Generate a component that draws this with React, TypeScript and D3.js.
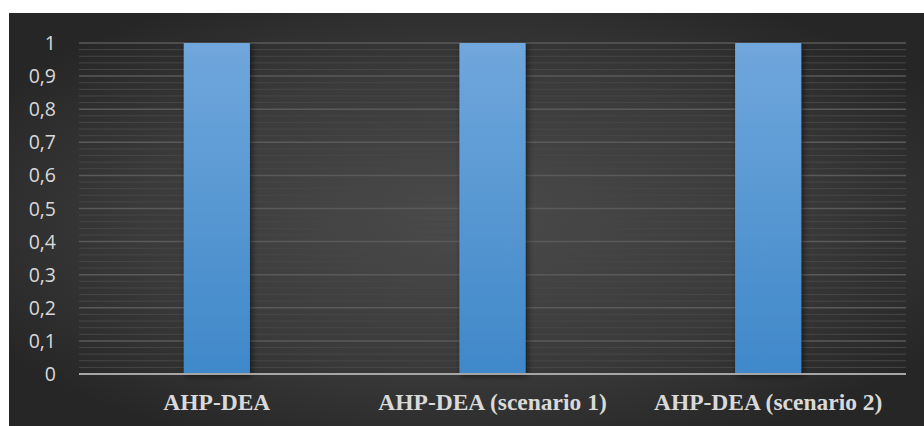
import React from "react";
import * as d3 from "d3";

const categories = ["AHP-DEA", "AHP-DEA (scenario 1)", "AHP-DEA (scenario 2)"];
const values = [1, 1, 1];
const yTicks = [0, 0.1, 0.2, 0.3, 0.4, 0.5, 0.6, 0.7, 0.8, 0.9, 1];
const yTickLabels = ["0", "0,1", "0,2", "0,3", "0,4", "0,5", "0,6", "0,7", "0,8", "0,9", "1"];

const W = 924;
const H = 426;
const plotLeft = 79;
const plotRight = 906;
const plotTop = 43;
const plotBottom = 374;

export default function App() {
  const x = d3
    .scaleBand<string>()
    .domain(categories)
    .range([plotLeft, plotRight])
    .paddingInner(0.76)
    .paddingOuter(0.38);
  const y = d3.scaleLinear().domain([0, 1]).range([plotBottom, plotTop]);
  const minorTicks = d3.range(0, 1.0001, 0.02).filter((v) => Math.abs(Math.round(v * 10) - v * 10) > 0.01);

  return (
    <svg width={W} height={H} style={{ position: "absolute", left: 0, top: 0 }}>
      <defs>
        <radialGradient id="bg" cx="0.5" cy="0.5" r="0.6" gradientUnits="objectBoundingBox">
          <stop offset="0" stopColor="#4b4b4b" />
          <stop offset="0.6" stopColor="#3a3a3a" />
          <stop offset="1" stopColor="#262626" />
        </radialGradient>
        <linearGradient id="bar" x1="0" y1="0" x2="0" y2="1">
          <stop offset="0" stopColor="#70a7dc" />
          <stop offset="1" stopColor="#3f88c9" />
        </linearGradient>
        <filter id="shadow" x="-20%" y="-10%" width="150%" height="130%">
          <feGaussianBlur in="SourceAlpha" stdDeviation="3" />
          <feOffset dx="2" dy="2" result="b" />
          <feComponentTransfer>
            <feFuncA type="linear" slope="0.55" />
          </feComponentTransfer>
          <feMerge>
            <feMergeNode />
            <feMergeNode in="SourceGraphic" />
          </feMerge>
        </filter>
      </defs>
      <rect x={9} y={13} width={W - 9} height={H - 13} fill="url(#bg)" />
      {minorTicks.map((t, i) => (
        <line key={"m" + i} x1={plotLeft} x2={plotRight} y1={y(t)} y2={y(t)} stroke="#474747" strokeWidth={1} />
      ))}
      {yTicks.slice(1).map((t, i) => (
        <line key={"g" + i} x1={plotLeft} x2={plotRight} y1={y(t)} y2={y(t)} stroke="#5a5a5a" strokeWidth={1.5} />
      ))}
      {categories.map((c, i) => (
        <rect
          key={c}
          x={x(c)}
          y={y(values[i])}
          width={x.bandwidth()}
          height={y(0) - y(values[i])}
          fill="url(#bar)"
          filter="url(#shadow)"
        />
      ))}
      <line x1={plotLeft} x2={plotRight} y1={y(0)} y2={y(0)} stroke="#a6a6a6" strokeWidth={2} />
      {yTicks.map((t, i) => (
        <text
          key={"yl" + i}
          x={56}
          y={y(t)}
          dy="0.36em"
          textAnchor="end"
          fill="#d9d9d9"
          fontFamily="'Open Sans', sans-serif"
          fontSize={19.5}
        >
          {yTickLabels[i]}
        </text>
      ))}
      {categories.map((c) => (
        <text
          key={"xl" + c}
          x={(x(c) as number) + x.bandwidth() / 2}
          y={410}
          textAnchor="middle"
          fill="#d9d9d9"
          fontFamily="'Liberation Serif', 'Times New Roman', serif"
          fontWeight="bold"
          fontSize={23.5}
        >
          {c}
        </text>
      ))}
    </svg>
  );
}
